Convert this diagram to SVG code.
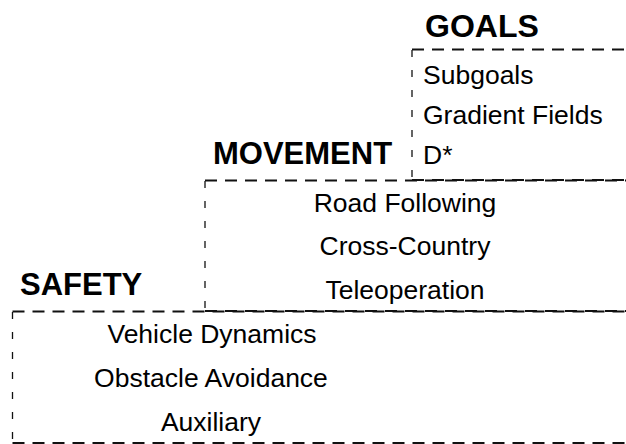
<svg xmlns="http://www.w3.org/2000/svg" width="626" height="444" viewBox="0 0 626 444">
<style>
.h{stroke:#111;stroke-width:1.8;stroke-dasharray:12 8;fill:none}
.v{stroke:#111;stroke-width:1.3;stroke-dasharray:7 13;fill:none}
.t{font-family:"Liberation Sans",Arial,sans-serif;font-size:26.5px;fill:#000}
.b{font-family:"Liberation Sans",Arial,sans-serif;font-weight:bold;font-size:31px;fill:#000}
</style>
<rect width="626" height="444" fill="#fff"/>
<g id="goals">
<line class="h" x1="412" y1="49.5" x2="640" y2="49.5"/>
<line class="v" x1="412" y1="50" x2="412" y2="180"/>
<line class="h" x1="412" y1="180" x2="640" y2="180"/>
<text class="b" x="425" y="37" style="font-size:32px">GOALS</text>
<text class="t" x="423" y="84">Subgoals</text>
<text class="t" x="423" y="124">Gradient Fields</text>
<text class="t" x="423" y="164">D*</text>
</g>
<g id="movement">
<line class="h" x1="205" y1="180.5" x2="640" y2="180.5"/>
<line class="v" x1="205" y1="181" x2="205" y2="311"/>
<line class="h" x1="205" y1="311" x2="640" y2="311"/>
<text class="b" x="213" y="164">MOVEMENT</text>
<text class="t" x="405" y="212" text-anchor="middle">Road Following</text>
<text class="t" x="405" y="255" text-anchor="middle">Cross-Country</text>
<text class="t" x="405" y="299" text-anchor="middle">Teleoperation</text>
</g>
<g id="safety">
<line class="h" x1="12.5" y1="311.5" x2="640" y2="311.5"/>
<line class="v" x1="12.5" y1="312" x2="12.5" y2="443"/>
<line class="h" x1="12.5" y1="443" x2="640" y2="443"/>
<text class="b" x="20" y="295">SAFETY</text>
<text class="t" x="212" y="343" text-anchor="middle">Vehicle Dynamics</text>
<text class="t" x="211" y="387" text-anchor="middle">Obstacle Avoidance</text>
<text class="t" x="211" y="431" text-anchor="middle">Auxiliary</text>
</g>
</svg>
